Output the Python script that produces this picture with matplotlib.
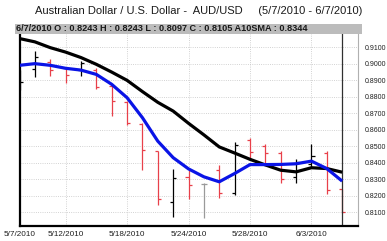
import numpy as np
import matplotlib.pyplot as plt
plt.switch_backend("Agg")

#### data ######################################################################

dates = ['5/7/2010', '5/10/2010', '5/11/2010', '5/12/2010', '5/13/2010',
         '5/14/2010', '5/17/2010', '5/18/2010', '5/19/2010', '5/20/2010',
         '5/21/2010', '5/24/2010', '5/25/2010', '5/26/2010', '5/27/2010',
         '5/28/2010', '5/31/2010', '6/1/2010', '6/2/2010', '6/3/2010',
         '6/4/2010', '6/7/2010']
opens  = [0.8870, 0.8967, 0.9011, 0.8975, 0.8963, 0.8965, 0.8865, 0.8770,
          0.8635, 0.8470, 0.8165, 0.8317, 0.8272, 0.8357, 0.8218, 0.8539,
          0.8503, 0.8458, 0.8313, 0.8394, 0.8460, 0.8243]
highs  = [0.8960, 0.9076, 0.9029, 0.8981, 0.9017, 0.8973, 0.8877, 0.8777,
          0.8640, 0.8474, 0.8363, 0.8357, 0.8277, 0.8388, 0.8529, 0.8554,
          0.8515, 0.8472, 0.8422, 0.8517, 0.8471, 0.8243]
lows   = [0.8840, 0.8919, 0.8928, 0.8885, 0.8927, 0.8849, 0.8683, 0.8630,
          0.8357, 0.8145, 0.8071, 0.8179, 0.8065, 0.8189, 0.8206, 0.8421,
          0.8395, 0.8277, 0.8277, 0.8375, 0.8214, 0.8097]
closes = [0.8892, 0.9043, 0.8963, 0.8932, 0.9005, 0.8860, 0.8775, 0.8642,
          0.8477, 0.8182, 0.8307, 0.8266, 0.8272, 0.8220, 0.8509, 0.8468,
          0.8460, 0.8301, 0.8408, 0.8439, 0.8236, 0.8105]
sma10  = [0.9153, 0.9133, 0.9098, 0.9071, 0.9038, 0.8997, 0.8950, 0.8900,
          0.8832, 0.8767, 0.8714, 0.8640, 0.8570, 0.8497, 0.8460, 0.8422,
          0.8388, 0.8356, 0.8346, 0.8371, 0.8366, 0.8344]
avg2   = [0.8991, 0.9001, 0.8991, 0.8973, 0.8962, 0.8936, 0.8876, 0.8795,
          0.8674, 0.8532, 0.8432, 0.8364, 0.8316, 0.8286, 0.8336, 0.8390,
          0.8390, 0.8391, 0.8395, 0.8411, 0.8366, 0.8290]
tickDates = ['5/7/2010', '5/12/2010', '5/18/2010', '5/24/2010', '5/28/2010', '6/3/2010']
yTicks = [0.81, 0.82, 0.83, 0.84, 0.85, 0.86, 0.87, 0.88, 0.89, 0.90, 0.91]

title = 'Australian Dollar / U.S. Dollar -  AUD/USD     (5/7/2010 - 6/7/2010)'
header = '6/7/2010 O : %.4f H : %.4f L : %.4f C : %.4f A10SMA : %.4f' % (
    opens[-1], highs[-1], lows[-1], closes[-1], sma10[-1])

#### plot ######################################################################

plt.rcParams['font.family'] = ['Liberation Sans', 'DejaVu Sans']

x = np.arange(len(dates))
O = np.array(opens); H = np.array(highs); L = np.array(lows); C = np.array(closes)
cols = np.where(C > O, 'k', np.where(C < O, '#e8404a', '#9a9a9a'))

fig = plt.figure(figsize=(3.87, 2.41), dpi=100)
ax = fig.add_axes([19.5/387, 15.5/241, 338.8/387, 192.5/241])

ax.grid(ls=':', color='#c4c4c4', lw=0.6)
ax.set_axisbelow(True)

w = 0.2
ax.vlines(x, L, H, colors=cols, lw=0.9, zorder=2)
ax.hlines(O, x-w, x, colors=cols, lw=0.9, zorder=2)
ax.hlines(C, x, x+w, colors=cols, lw=0.9, zorder=2)
ax.axvline(x[-1], color='#303030', lw=0.9, zorder=2)

ax.plot(x, sma10, c='k', lw=2.3, zorder=3, solid_capstyle='butt')
ax.plot(x, avg2, c='#0a14e6', lw=2.3, zorder=3, solid_capstyle='butt')

ax.set_xlim(0, 22.05)
ax.set_ylim(0.80213, 0.91866)
ax.set_xticks([dates.index(d) for d in tickDates])
ax.set_xticklabels(tickDates, fontsize=5.9, color='#202020')
ax.set_yticks(yTicks)
ax.set_yticklabels(['%.4f' % v for v in yTicks], fontsize=5.0, color='#202020')
ax.yaxis.tick_right()
ax.tick_params(axis='both', length=0)
ax.tick_params(axis='y', pad=4.5)
ax.tick_params(axis='x', pad=4)

for s in ['left', 'bottom']:
    ax.spines[s].set_linewidth(1.6)
    ax.spines[s].set_color('k')
ax.spines['right'].set_color('#b0b0b0')
ax.spines['right'].set_linewidth(0.8)
ax.spines['top'].set_visible(False)

fig.patches.append(plt.Rectangle((15/387, 1-33.5/241), 347/387, 10/241,
                                 transform=fig.transFigure, fc='#bcbcbc',
                                 ec='none', zorder=5))
fig.text(16/387, 1-28.7/241, header, fontsize=6.6, fontweight='bold',
         color='#1a1a1a', ha='left', va='center', zorder=6)
fig.text(199/387, 1-11/241, title, fontsize=8.0, color='#1a1a1a',
         ha='center', va='center')

fig.savefig('out.png', dpi=100)
plt.close()
